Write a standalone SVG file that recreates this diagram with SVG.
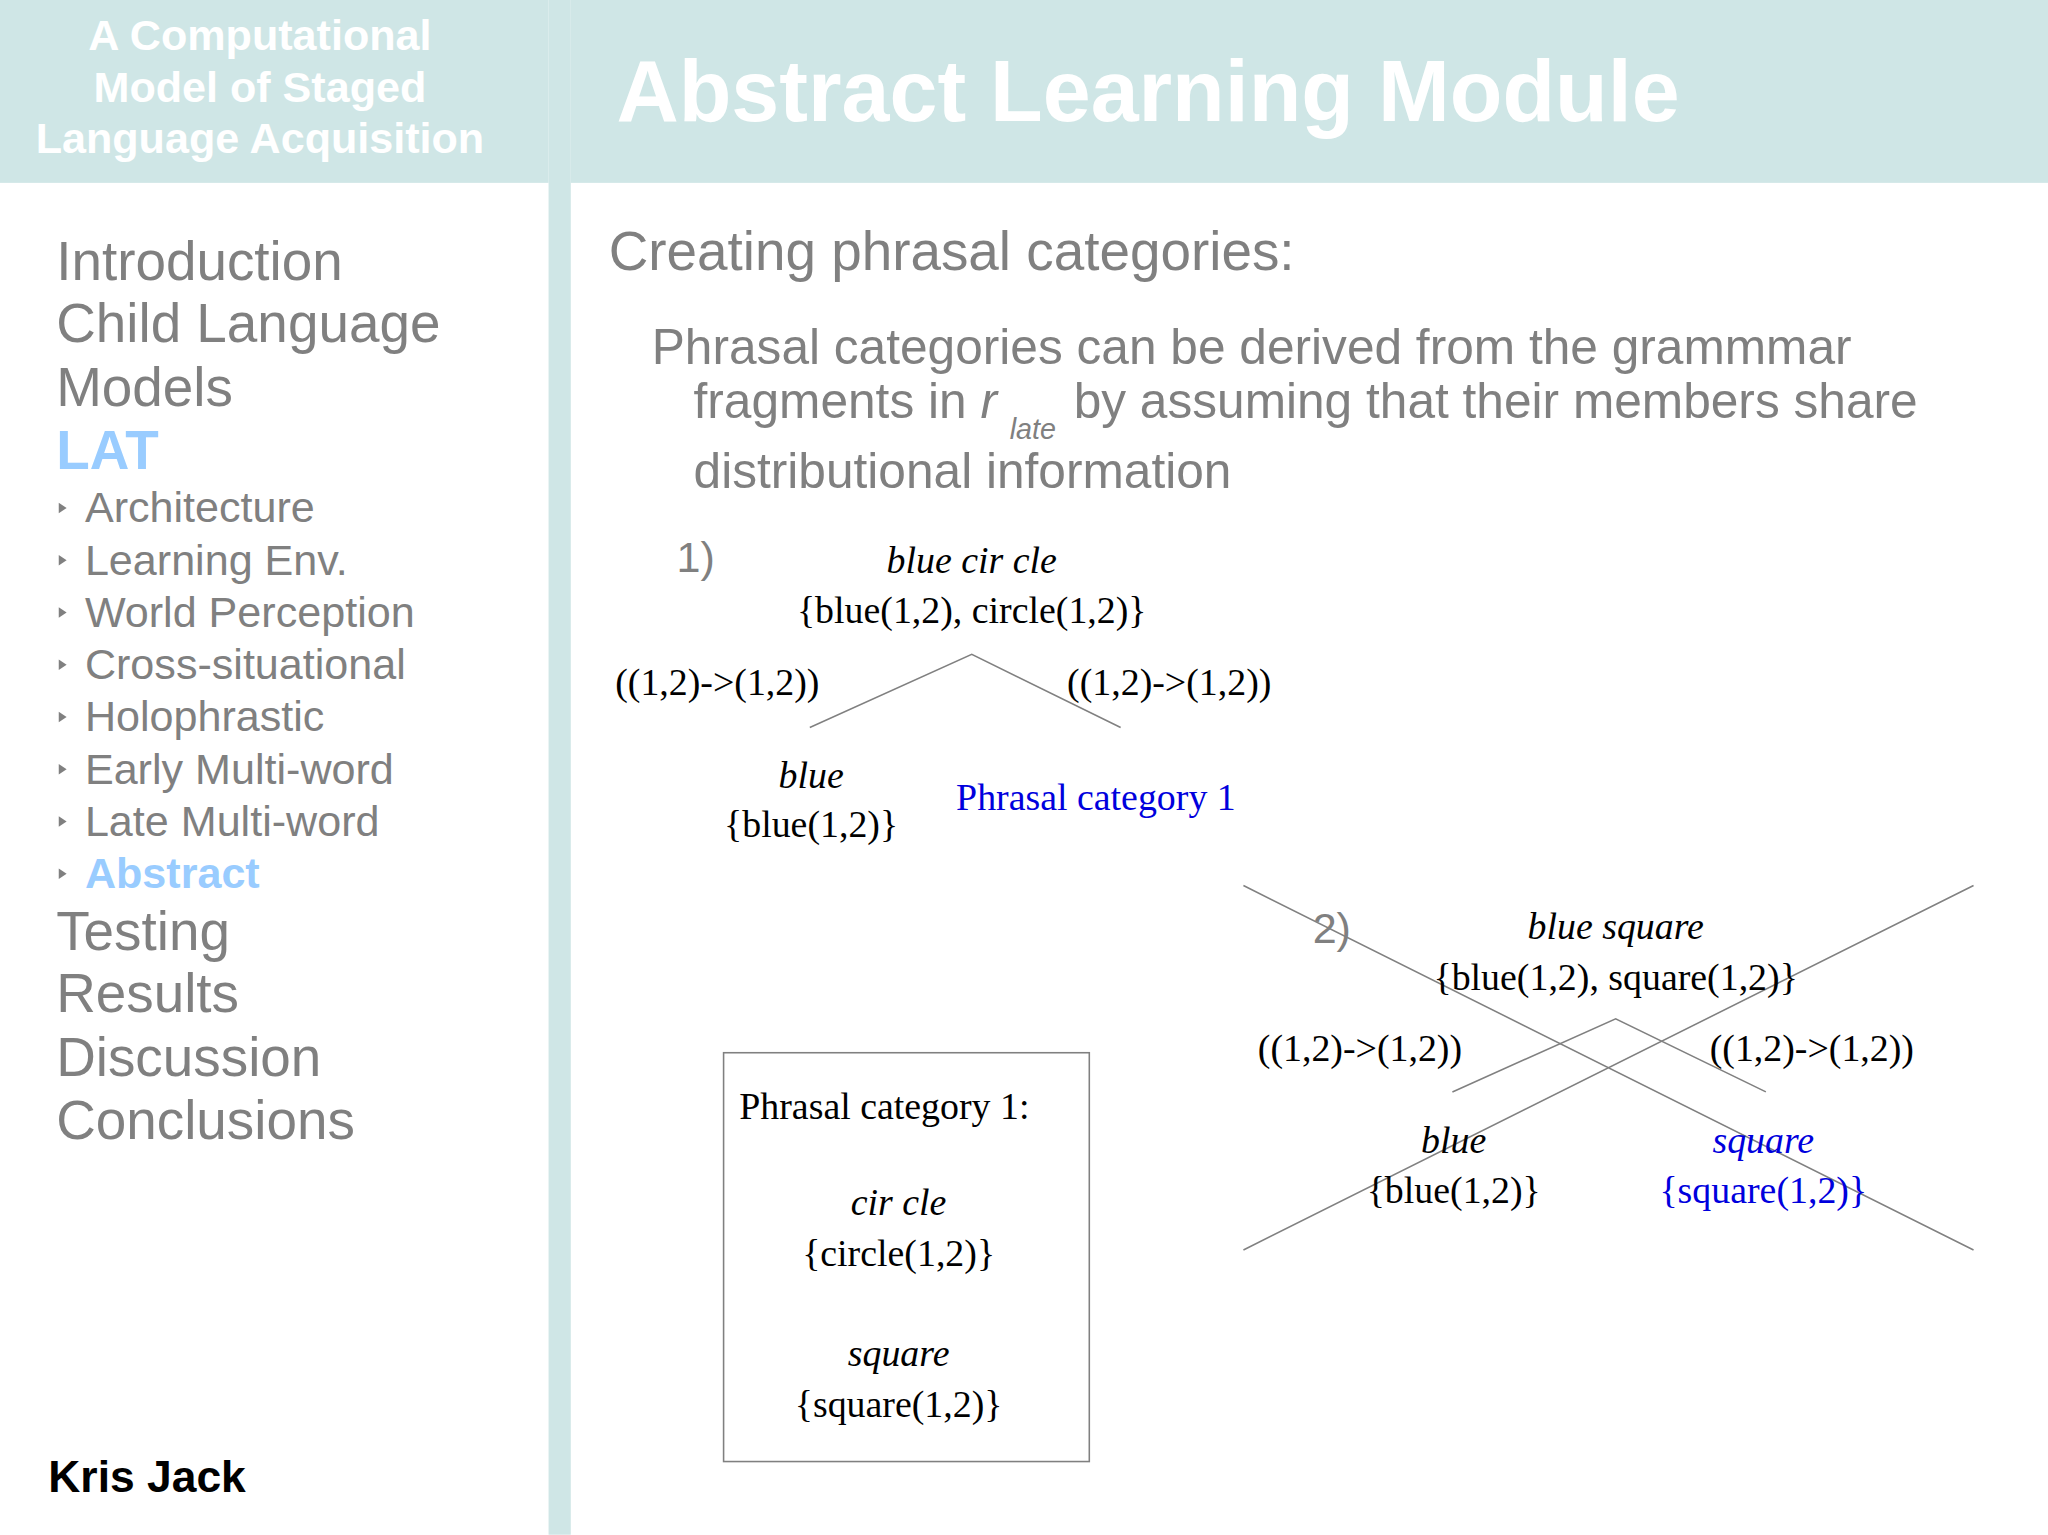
<svg xmlns="http://www.w3.org/2000/svg" width="2048" height="1535" viewBox="0 0 2048 1535">
<style>
.s{font-family:"Liberation Sans",Arial,sans-serif;fill:#808080}
.f{font-family:"Liberation Serif","DejaVu Serif",serif;font-size:29px;fill:#000}
.i{font-style:italic}
.c{text-anchor:middle}
.b{fill:#0000dd}
.n{font-size:42px}
.u{font-size:33px}
.ln{stroke:#808080;stroke-width:1.2;fill:none}
</style>
<rect width="2048" height="1535" fill="#fff"/>
<g transform="scale(1.30612)">
<g id="header">
<rect x="0" y="0" width="420" height="140" fill="#cfe6e6"/>
<rect x="437" y="0" width="1131" height="140" fill="#cfe6e6"/>
<rect x="420" y="0" width="17" height="1175" fill="#cfe6e6"/>
<text class="s c" x="199" y="38" font-size="33" font-weight="bold" fill="#fff" style="fill:#fff">A Computational</text>
<text class="s c" x="199" y="78" font-size="33" font-weight="bold" style="fill:#fff">Model of Staged</text>
<text class="s c" x="199" y="117" font-size="33" font-weight="bold" style="fill:#fff">Language Acquisition</text>
<text class="s" x="472" y="93" font-size="66" font-weight="bold" style="fill:#fff">Abstract Learning Module</text>
</g>
<g id="nav">
<text class="s n" x="43" y="214">Introduction</text>
<text class="s n" x="43" y="262">Child Language</text>
<text class="s n" x="43" y="311">Models</text>
<text class="s n" x="43" y="359" font-weight="bold" style="fill:#99ccff">LAT</text>
<g fill="#808080">
<path d="M45,385 l6,4 -6,4z"/><path d="M45,425 l6,4 -6,4z"/><path d="M45,465 l6,4 -6,4z"/><path d="M45,505 l6,4 -6,4z"/><path d="M45,545 l6,4 -6,4z"/><path d="M45,585 l6,4 -6,4z"/><path d="M45,625 l6,4 -6,4z"/><path d="M45,665 l6,4 -6,4z"/>
</g>
<text class="s u" x="65" y="400">Architecture</text>
<text class="s u" x="65" y="440">Learning Env.</text>
<text class="s u" x="65" y="480">World Perception</text>
<text class="s u" x="65" y="520">Cross-situational</text>
<text class="s u" x="65" y="560">Holophrastic</text>
<text class="s u" x="65" y="600">Early Multi-word</text>
<text class="s u" x="65" y="640">Late Multi-word</text>
<text class="s u" x="65" y="680" font-weight="bold" style="fill:#99ccff">Abstract</text>
<text class="s n" x="43" y="727">Testing</text>
<text class="s n" x="43" y="775">Results</text>
<text class="s n" x="43" y="824">Discussion</text>
<text class="s n" x="43" y="872">Conclusions</text>
<text x="37" y="1142" font-family="Liberation Sans,Arial,sans-serif" font-size="34" font-weight="bold" fill="#000">Kris Jack</text>
</g>
<g id="body">
<text class="s n" x="466" y="207">Creating phrasal categories:</text>
<text class="s" font-size="38" x="499" y="279">Phrasal categories can be derived from the grammmar</text>
<text class="s" font-size="38" x="531" y="320">fragments in <tspan font-style="italic">r</tspan></text>
<text class="s i" font-size="22" x="773" y="336">late</text>
<text class="s" font-size="38" x="822" y="320">by assuming that their members share</text>
<text class="s" font-size="38" x="531" y="374">distributional information</text>
</g>
<g id="connectors">
<path class="ln" d="M620,557 L744,501 L858,557"/>
<path class="ln" d="M1112,836 L1237,780 L1352,836"/>
<path class="ln" d="M952,678 L1511,957 M952,957 L1511,678"/>
</g>
<g id="tree1">
<text class="s u" x="518" y="438">1)</text>
<text class="f i c" x="744" y="439">blue cir cle</text>
<text class="f c" x="744" y="477">{blue(1,2), circle(1,2)}</text>
<text class="f" x="471" y="532">((1,2)-&gt;(1,2))</text>
<text class="f" x="817" y="532">((1,2)-&gt;(1,2))</text>
<text class="f i c" x="621" y="603">blue</text>
<text class="f c" x="621" y="641">{blue(1,2)}</text>
<text class="f b" x="732" y="620">Phrasal category 1</text>
</g>
<g id="tree2">
<text class="s u" x="1005" y="722">2)</text>
<text class="f i c" x="1237" y="719">blue square</text>
<text class="f c" x="1237" y="758">{blue(1,2), square(1,2)}</text>
<text class="f" x="963" y="812">((1,2)-&gt;(1,2))</text>
<text class="f" x="1309" y="812">((1,2)-&gt;(1,2))</text>
<text class="f i c" x="1113" y="883">blue</text>
<text class="f c" x="1113" y="921">{blue(1,2)}</text>
<text class="f i c b" x="1350" y="883">square</text>
<text class="f c b" x="1350" y="921">{square(1,2)}</text>
</g>
<g id="box">
<rect x="554" y="806" width="280" height="313" fill="none" stroke="#808080" stroke-width="1.2"/>
<text class="f" x="566" y="857">Phrasal category 1:</text>
<text class="f i c" x="688" y="930">cir cle</text>
<text class="f c" x="688" y="969">{circle(1,2)}</text>
<text class="f i c" x="688" y="1046">square</text>
<text class="f c" x="688" y="1085">{square(1,2)}</text>
</g>
</g>
</svg>
